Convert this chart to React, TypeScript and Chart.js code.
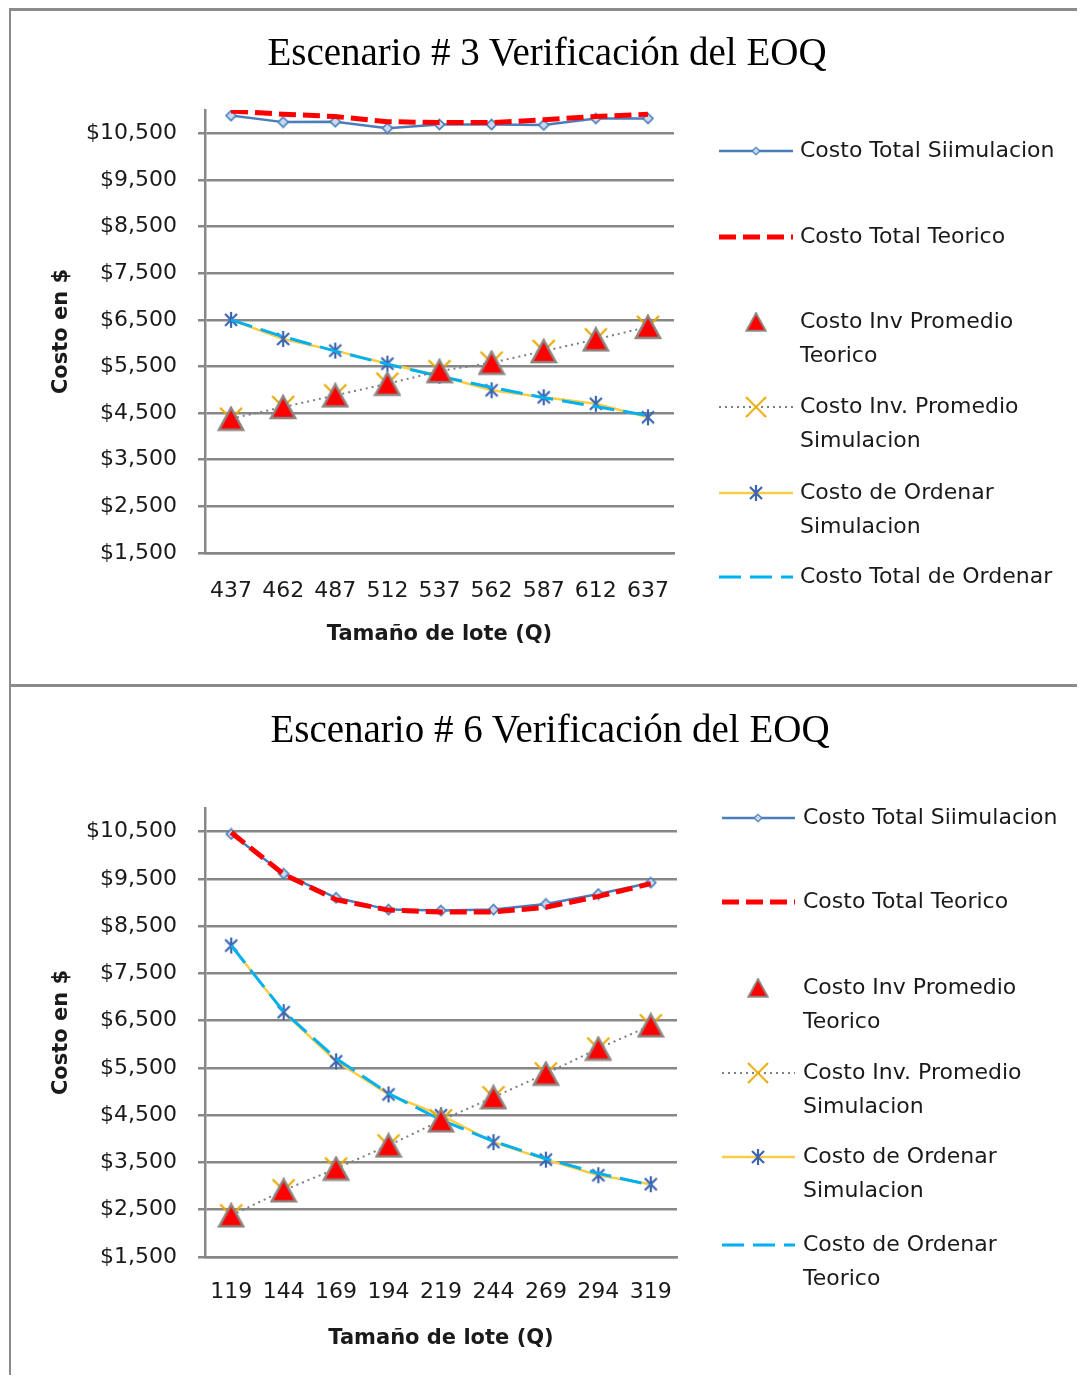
import React, { useEffect, useRef } from 'react';
import { Chart, registerables } from 'chart.js';
Chart.register(...registerables);

// ---------- Escenario # 3 ----------
const lotes3 = ['437', '462', '487', '512', '537', '562', '587', '612', '637'];
const totalSim3 = [10880, 10740, 10750, 10610, 10690, 10690, 10680, 10820, 10820];
const totalTeo3 = [10980, 10910, 10860, 10750, 10730, 10730, 10790, 10860, 10910];
const invTeo3 = [4380, 4630, 4880, 5130, 5400, 5580, 5830, 6080, 6350];
const invSim3 = [4380, 4630, 4880, 5130, 5400, 5580, 5830, 6080, 6350];
const ordSim3 = [6500, 6090, 5840, 5560, 5300, 4990, 4840, 4700, 4410];
const ordTeo3 = [6500, 6140, 5830, 5550, 5290, 5050, 4830, 4640, 4450];
const legend3 = [
  ['Costo Total Siimulacion'],
  ['Costo Total Teorico'],
  ['Costo Inv Promedio', 'Teorico'],
  ['Costo Inv. Promedio', 'Simulacion'],
  ['Costo de Ordenar', 'Simulacion'],
  ['Costo Total de Ordenar'],
];

// ---------- Escenario # 6 ----------
const lotes6 = ['119', '144', '169', '194', '219', '244', '269', '294', '319'];
const totalSim6 = [10450, 9610, 9100, 8850, 8830, 8850, 8970, 9180, 9420];
const totalTeo6 = [10480, 9600, 9060, 8840, 8800, 8800, 8900, 9130, 9400];
const invTeo6 = [2380, 2910, 3370, 3860, 4390, 4880, 5380, 5910, 6400];
const invSim6 = [2380, 2910, 3370, 3860, 4390, 4880, 5380, 5910, 6400];
const ordSim6 = [8090, 6680, 5640, 4940, 4500, 3930, 3560, 3230, 3040];
const ordTeo6 = [8090, 6690, 5700, 4960, 4400, 3950, 3580, 3270, 3020];
const legend6 = [
  ['Costo Total Siimulacion'],
  ['Costo Total Teorico'],
  ['Costo Inv Promedio', 'Teorico'],
  ['Costo Inv. Promedio', 'Simulacion'],
  ['Costo de Ordenar', 'Simulacion'],
  ['Costo de Ordenar', 'Teorico'],
];

// ---------- axis ----------
const yMin = 1500;
const yMax = 11000;
const yTickValues = [1500, 2500, 3500, 4500, 5500, 6500, 7500, 8500, 9500, 10500];
const xTitle = 'Tamaño de lote (Q)';
const yTitle = 'Costo en $';

const GRID = '#878787';
const TEXT = '#1a1a1a';
const SANS = '"DejaVu Sans", sans-serif';

const fmt = (v: number) => '$' + String(v).replace(/\B(?=(\d{3})+(?!\d))/g, ',');

function mk(w: number, h: number, draw: (c: CanvasRenderingContext2D) => void) {
  const c = document.createElement('canvas');
  c.width = w;
  c.height = h;
  const ctx = c.getContext('2d')!;
  draw(ctx);
  return c;
}

function makeMarkers() {
  const diamond = mk(13, 13, (ctx) => {
    ctx.beginPath();
    ctx.moveTo(6.5, 1.5);
    ctx.lineTo(11.5, 6.5);
    ctx.lineTo(6.5, 11.5);
    ctx.lineTo(1.5, 6.5);
    ctx.closePath();
    ctx.fillStyle = '#c9daf0';
    ctx.fill();
    ctx.strokeStyle = '#4a7ebb';
    ctx.lineWidth = 1.6;
    ctx.stroke();
  });
  const triangle = mk(28, 26, (ctx) => {
    ctx.beginPath();
    ctx.moveTo(14, 2);
    ctx.lineTo(26, 24);
    ctx.lineTo(2, 24);
    ctx.closePath();
    ctx.fillStyle = '#ff0000';
    ctx.fill();
    ctx.strokeStyle = '#8e8580';
    ctx.lineWidth = 2.5;
    ctx.stroke();
  });
  const cross = mk(26, 26, (ctx) => {
    ctx.strokeStyle = '#e8aa00';
    ctx.lineWidth = 2.2;
    ctx.beginPath();
    ctx.moveTo(2, 2);
    ctx.lineTo(24, 24);
    ctx.moveTo(24, 2);
    ctx.lineTo(2, 24);
    ctx.stroke();
  });
  const star = mk(18, 18, (ctx) => {
    ctx.strokeStyle = '#3c64b1';
    ctx.lineWidth = 2.2;
    ctx.beginPath();
    ctx.moveTo(3, 3);
    ctx.lineTo(15, 15);
    ctx.moveTo(15, 3);
    ctx.lineTo(3, 15);
    ctx.moveTo(9, 1);
    ctx.lineTo(9, 17);
    ctx.stroke();
  });
  return { diamond, triangle, cross, star };
}

type Geo = {
  height: number;
  padTop: number;
  padRight: number;
  chartBottom: number;
  xTickPad: number;
  xTitlePadBottom: number;
  legX1: number;
  legX2: number;
  legCx: number;
  legTx: number;
  legYs: number[];
  legLh: number;
};

type PanelProps = {
  title: string;
  titleTop: number;
  titleCx: number;
  labels: string[];
  series: number[][];
  legend: string[][];
  geo: Geo;
};

function Panel({ title, titleTop, titleCx, labels, series, legend, geo }: PanelProps) {
  const ref = useRef<HTMLCanvasElement>(null);

  useEffect(() => {
    const m = makeMarkers();
    const [tSim, tTeo, iTeo, iSim, oSim, oTeo] = series;
    const lab = (i: number) => legend[i].join(' ');
    const datasets: any[] = [
      { label: lab(0), data: tSim, borderColor: '#4a7ebb', borderWidth: 2.5, pointStyle: m.diamond, pointRadius: 6, order: 5, legendScale: 0.75 },
      { label: lab(1), data: tTeo, borderColor: '#ff0000', borderWidth: 5, borderDash: [17, 7], pointRadius: 0, order: 4 },
      { label: lab(2), data: iTeo, borderColor: '#ff0000', showLine: false, pointStyle: m.triangle, pointRadius: 12, order: 0, legendScale: 0.8 },
      { label: lab(3), data: iSim, borderColor: '#7f7f7f', borderWidth: 2, borderDash: [2, 4], pointStyle: m.cross, pointRadius: 12, order: 1, legendScale: 0.9 },
      { label: lab(4), data: oSim, borderColor: '#fbcd45', borderWidth: 2.5, pointStyle: m.star, pointRadius: 8, order: 3, legendScale: 1 },
      { label: lab(5), data: oTeo, borderColor: '#00b0f0', borderWidth: 3, borderDash: [22, 9], pointRadius: 0, order: 2 },
    ];

    const legendPlugin = {
      id: 'excelLegend',
      afterDraw(chart: any) {
        const ctx = chart.ctx as CanvasRenderingContext2D;
        chart.data.datasets.forEach((ds: any, i: number) => {
          const y = geo.legYs[i];
          ctx.save();
          if (ds.showLine !== false) {
            ctx.strokeStyle = ds.borderColor;
            ctx.lineWidth = ds.borderWidth;
            ctx.setLineDash(ds.borderDash || []);
            ctx.beginPath();
            ctx.moveTo(geo.legX1, y);
            ctx.lineTo(geo.legX2, y);
            ctx.stroke();
            ctx.setLineDash([]);
          }
          const img = ds.pointStyle;
          if (img && ds.pointRadius > 0 && typeof img === 'object') {
            const s = ds.legendScale || 1;
            const w = img.width * s;
            const h = img.height * s;
            ctx.drawImage(img, geo.legCx - w / 2, y - h / 2, w, h);
          }
          ctx.fillStyle = TEXT;
          ctx.font = '22px ' + SANS;
          ctx.textAlign = 'left';
          ctx.textBaseline = 'middle';
          legend[i].forEach((line, j) => ctx.fillText(line, geo.legTx, y + j * geo.legLh));
          ctx.restore();
        });
      },
    };

    const chart = new Chart(ref.current!, {
      type: 'line',
      data: { labels, datasets },
      options: {
        animation: false,
        responsive: false,
        devicePixelRatio: 1,
        events: [],
        layout: { padding: { top: geo.padTop, right: geo.padRight, bottom: 0, left: 0 } },
        plugins: { legend: { display: false }, tooltip: { enabled: false }, title: { display: false } },
        elements: { line: { tension: 0, fill: false }, point: { borderWidth: 0 } },
        scales: {
          x: {
            type: 'category',
            offset: true,
            grid: { display: false, drawTicks: false, tickLength: 0 },
            border: { display: true, color: GRID, width: 2.5 },
            ticks: { padding: geo.xTickPad, color: TEXT, font: { family: SANS, size: 22 }, maxRotation: 0, autoSkip: false },
            title: {
              display: true,
              text: xTitle,
              color: TEXT,
              font: { family: SANS, size: 21, weight: 'bold' },
              padding: { top: 0, bottom: geo.xTitlePadBottom },
            },
            afterFit: (s: any) => {
              s.height = geo.height - geo.chartBottom;
            },
          },
          y: {
            min: yMin,
            max: yMax,
            ticks: {
              padding: 21,
              color: TEXT,
              font: { family: SANS, size: 22 },
              callback: (v: any) => fmt(Number(v)),
            },
            afterBuildTicks: (s: any) => {
              s.ticks = yTickValues.map((v) => ({ value: v }));
            },
            grid: { color: GRID, lineWidth: 2.5, drawTicks: true, tickLength: 7 },
            border: { display: true, color: GRID, width: 2.5 },
            title: {
              display: true,
              text: yTitle,
              color: TEXT,
              font: { family: SANS, size: 21, weight: 'bold' },
              padding: { top: 49, bottom: 0 },
            },
            afterFit: (s: any) => {
              s.width = 205;
            },
          },
        },
      } as any,
      plugins: [legendPlugin],
    });
    return () => chart.destroy();
  }, []);

  return (
    <>
      <canvas
        ref={ref}
        width={1085}
        height={geo.height}
        style={{ position: 'absolute', left: 0, top: 0, width: 1085, height: geo.height }}
      />
      <div
        style={{
          position: 'absolute',
          left: titleCx,
          top: titleTop,
          transform: 'translateX(-50%)',
          fontFamily: '"Liberation Serif", "Times New Roman", serif',
          fontSize: 39,
          lineHeight: '40px',
          whiteSpace: 'nowrap',
          color: '#000',
        }}
      >
        {title}
      </div>
    </>
  );
}

const geoTop: Geo = {
  height: 685,
  padTop: 110,
  padRight: 411,
  chartBottom: 553,
  xTickPad: 25,
  xTitlePadBottom: 38,
  legX1: 719,
  legX2: 793,
  legCx: 756,
  legTx: 800,
  legYs: [151, 237, 322, 407, 493, 577],
  legLh: 34,
};

const geoBottom: Geo = {
  height: 697,
  padTop: 122,
  padRight: 408,
  chartBottom: 571,
  xTickPad: 22,
  xTitlePadBottom: 32,
  legX1: 722,
  legX2: 795,
  legCx: 758,
  legTx: 803,
  legYs: [132, 216, 302, 387, 471, 559],
  legLh: 34,
};

export default function App() {
  const line = '#8a8a8a';
  return (
    <div style={{ position: 'relative', width: 1085, height: 1383, margin: -8, overflow: 'hidden', background: '#fff' }}>
      <div style={{ position: 'absolute', left: 9, top: 8, width: 1076, height: 3, background: line }} />
      <div style={{ position: 'absolute', left: 9, top: 8, width: 2, height: 1375, background: line }} />
      <div style={{ position: 'absolute', left: 9, top: 684, width: 1076, height: 3, background: line }} />
      <div style={{ position: 'absolute', left: 0, top: 0, width: 1085, height: 685 }}>
        <Panel
          title="Escenario # 3 Verificación del EOQ"
          titleTop={32}
          titleCx={547}
          labels={lotes3}
          series={[totalSim3, totalTeo3, invTeo3, invSim3, ordSim3, ordTeo3]}
          legend={legend3}
          geo={geoTop}
        />
      </div>
      <div style={{ position: 'absolute', left: 0, top: 686, width: 1085, height: 697 }}>
        <Panel
          title="Escenario # 6 Verificación del EOQ"
          titleTop={23}
          titleCx={550}
          labels={lotes6}
          series={[totalSim6, totalTeo6, invTeo6, invSim6, ordSim6, ordTeo6]}
          legend={legend6}
          geo={geoBottom}
        />
      </div>
    </div>
  );
}
